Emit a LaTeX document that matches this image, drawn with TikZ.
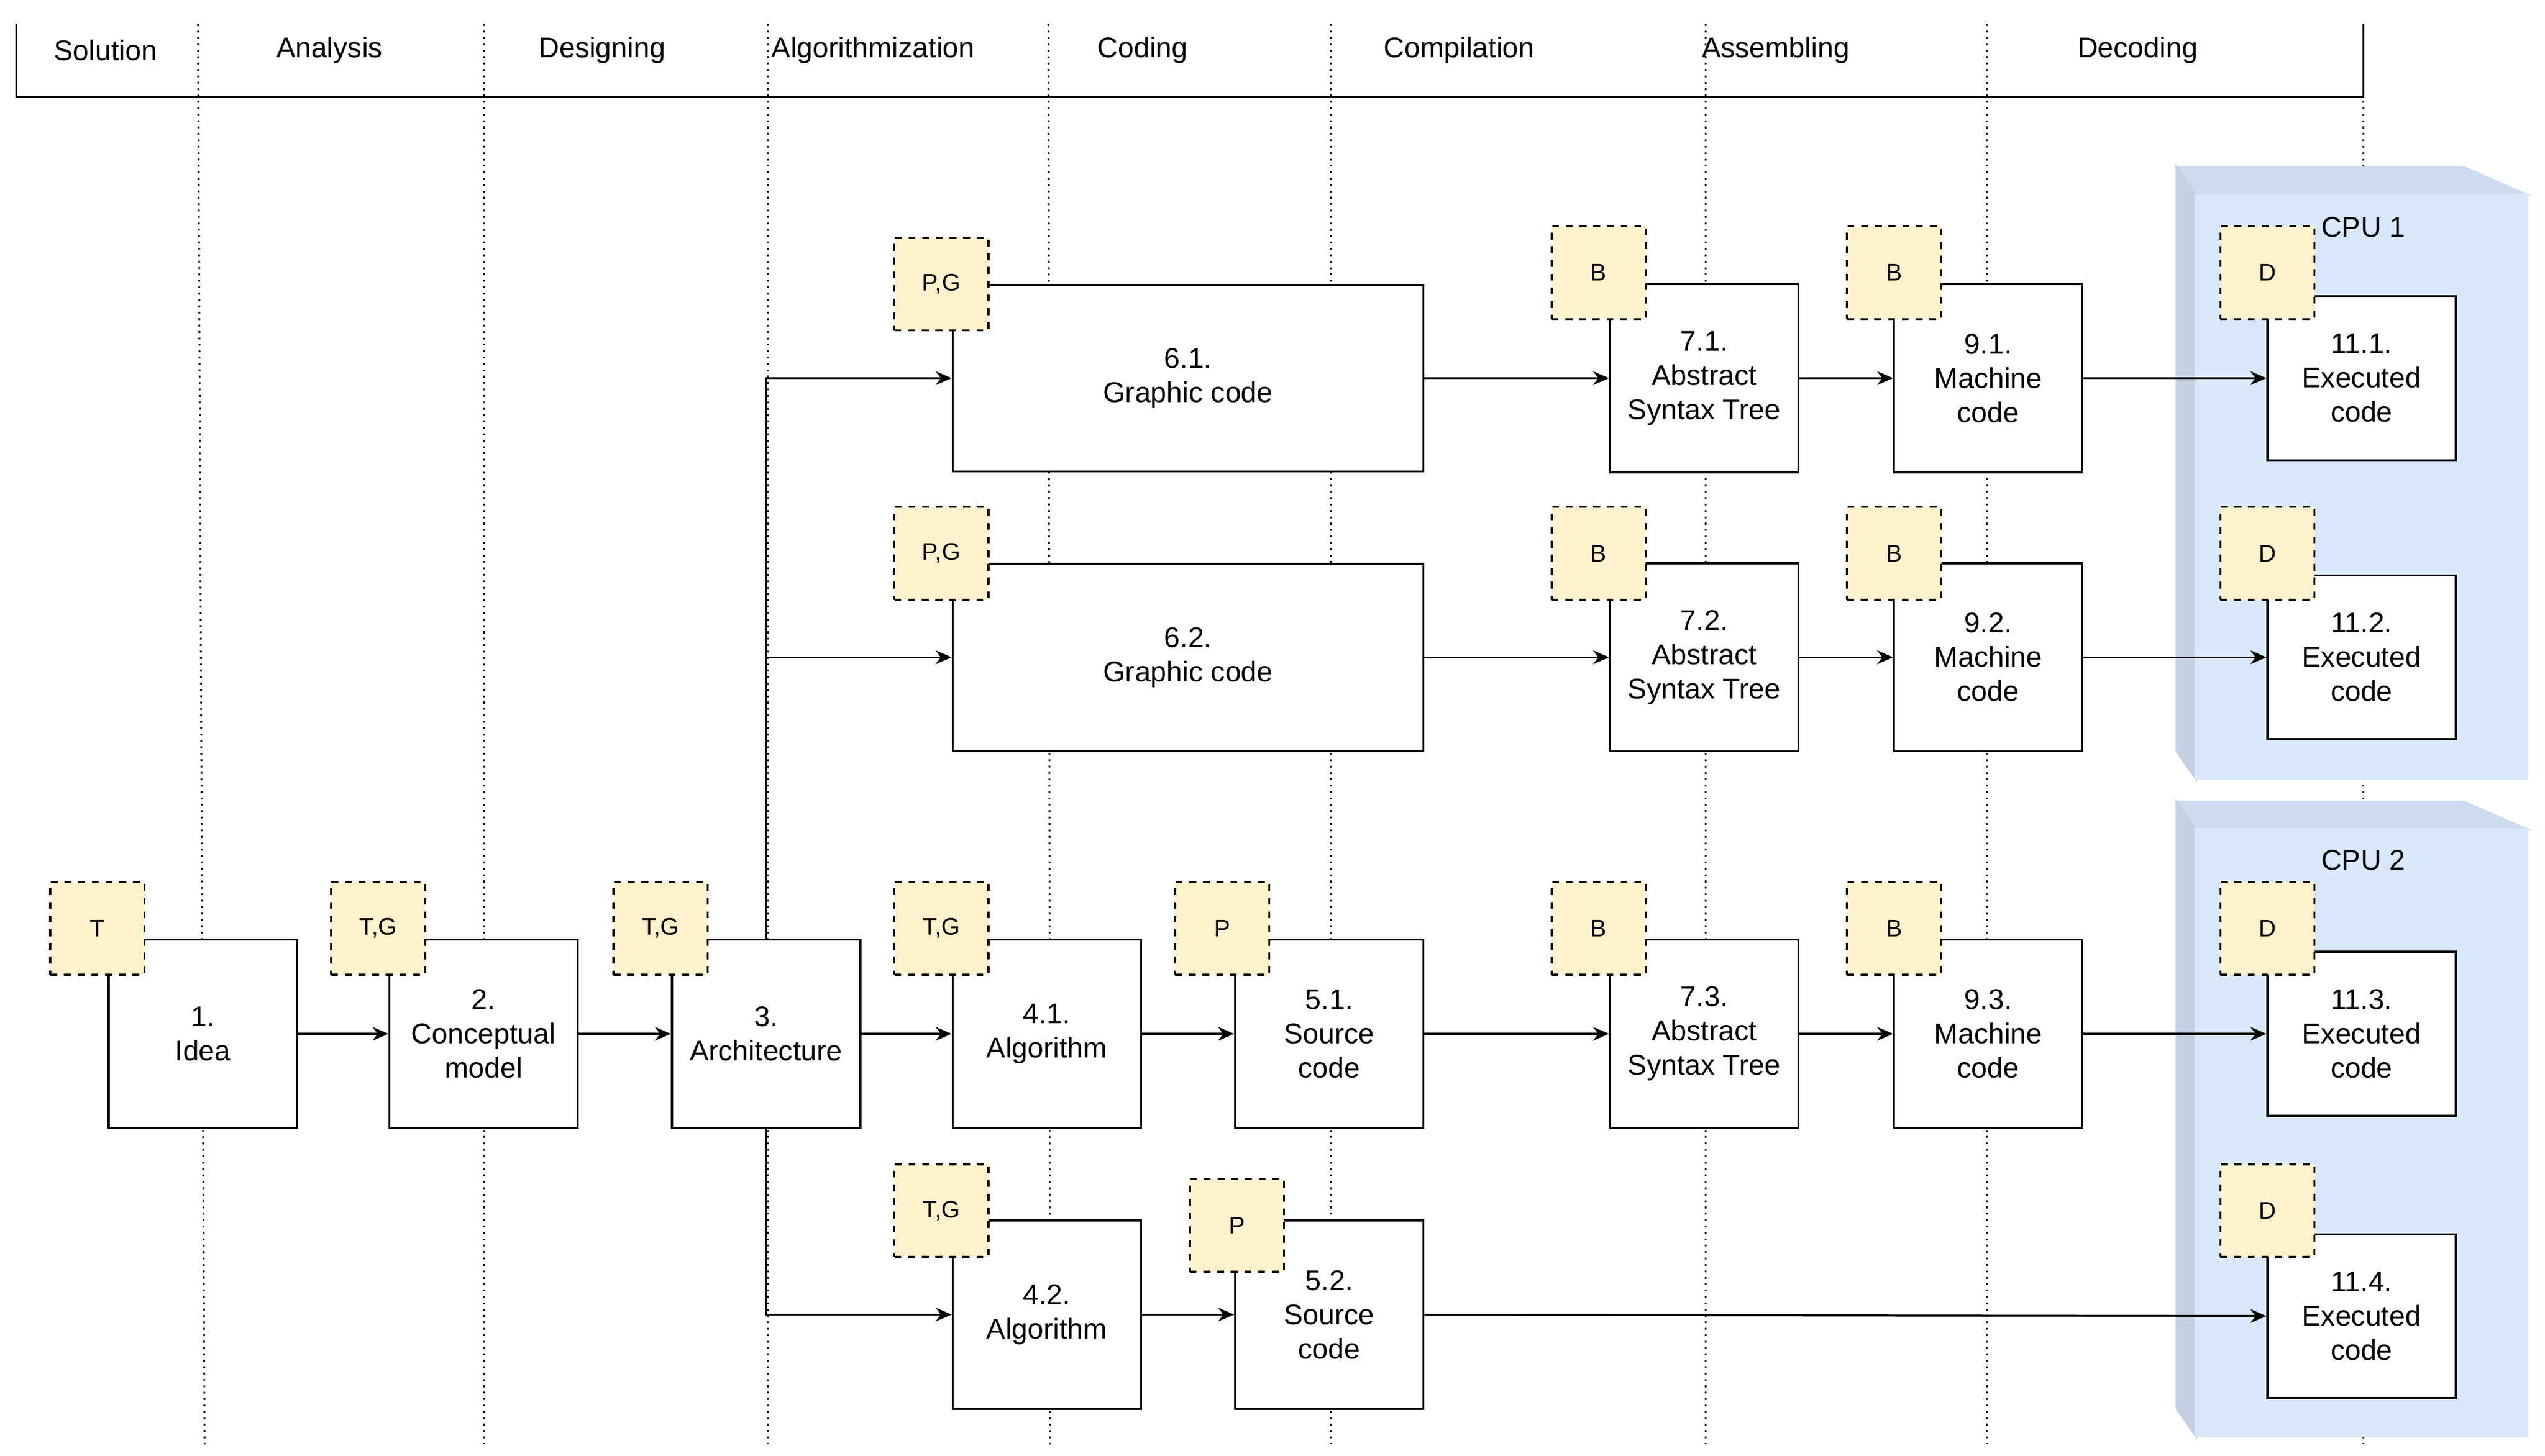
\documentclass[tikz,border=0pt]{standalone}
\usepackage{fontspec}
\setmainfont{Liberation Sans}
\usetikzlibrary{arrows.meta}
\definecolor{tagc}{HTML}{FFF2CC}
\definecolor{cpuf}{HTML}{DAE8FC}
\definecolor{cpus}{HTML}{C5D1E3}
\definecolor{cput}{HTML}{CCDBF0}
\begin{document}
\begin{tikzpicture}[x=0.025cm,y=-0.025cm,
  box/.style={draw,fill=white,line width=0.9pt,minimum width=2.9cm,minimum height=2.9cm,align=center,inner sep=1pt,font=\fontsize{12.5}{15}\selectfont},
  wide/.style={box,minimum width=7.25cm,minimum height=2.875cm},
  exe/.style={box,minimum height=2.525cm},
  tag/.style={draw,dashed,fill=tagc,line width=0.9pt,minimum width=1.45cm,minimum height=1.43cm,inner sep=0pt,font=\fontsize{10.5}{12}\selectfont},
  hd/.style={font=\fontsize{12.5}{15}\selectfont},
  arr/.style={line width=0.9pt,-{Stealth[length=7pt,width=6pt]}},
  dl/.style={dotted,line width=0.8pt},
  cpu/.style={draw,line width=0.9pt}]
\useasboundingbox (0,0) rectangle (1568,897);
% lanes
\foreach \a/\b in {122/126,298/298,473/473,646/647,820/820,1051/1051,1224/1224,1456/1456}
  \draw[dl] (\a,15) -- (\b,890);
\draw[line width=0.8pt] (10,15) -- (10,60) -- (1456,60) -- (1456,15);
\node[hd] (h1) at (65,31) {Solution};
\node[hd] (h2) at (203,31) {Analysis};
\node[hd] (h3) at (371,31) {Designing};
\node[hd] (h4) at (538,31) {Algorithmization};
\node[hd] (h5) at (704,31) {Coding};
\node[hd] (h6) at (899,31) {Compilation};
\node[hd] (h7) at (1094,31) {Assembling};
\node[hd] (h8) at (1317,31) {Decoding};
% CPU boxes
\foreach \t/\b/\nm in {103/480/cpua,494/885/cpub}{
  \fill[cput,cpu] (1341,\t) -- (1518,\t) -- (1557,\t+17) -- (1353,\t+17) -- cycle;
  \fill[cpus,cpu] (1341,\t) -- (1353,\t+17) -- (1353,\b) -- (1341,\b-17) -- cycle;
  \fill[cpuf,cpu] (1353,\t+17) rectangle (1557,\b);
}
\node[hd] (c1) at (1456,140) {CPU 1};
\node[hd] (c2) at (1456,530) {CPU 2};
% main row
\node[box] (n1) at (125,637) {1.\\Idea};
\node[box] (n2) at (298,637) {2.\\Conceptual\\model};
\node[box] (n3) at (472,637) {3.\\Architecture};
\node[box] (n41) at (645,637) {4.1.\\Algorithm};
\node[box] (n51) at (819,637) {5.1.\\Source\\code};
\node[box] (n73) at (1050,637) {7.3.\\Abstract\\Syntax Tree};
\node[box] (n93) at (1225,637) {9.3.\\Machine\\code};
\node[exe] (n113) at (1455,637) {11.3.\\Executed\\code};
% row 1
\node[wide] (n61) at (732,233) {6.1.\\Graphic code};
\node[box] (n71) at (1050,233) {7.1.\\Abstract\\Syntax Tree};
\node[box] (n91) at (1225,233) {9.1.\\Machine\\code};
\node[exe] (n111) at (1455,233) {11.1.\\Executed\\code};
% row 2
\node[wide] (n62) at (732,405) {6.2.\\Graphic code};
\node[box] (n72) at (1050,405) {7.2.\\Abstract\\Syntax Tree};
\node[box] (n92) at (1225,405) {9.2.\\Machine\\code};
\node[exe] (n112) at (1455,405) {11.2.\\Executed\\code};
% row 4
\node[box] (n42) at (645,810) {4.2.\\Algorithm};
\node[box] (n52) at (819,810) {5.2.\\Source\\code};
\node[exe] (n114) at (1455,811) {11.4.\\Executed\\code};
% tags
\node[tag] (t1) at (60,572) {T};
\node[tag] (t2) at (233,572) {T,G};
\node[tag] (t3) at (407,572) {T,G};
\node[tag] (t41) at (580,572) {T,G};
\node[tag] (t51) at (753,572) {P};
\node[tag] (t73) at (985,572) {B};
\node[tag] (t93) at (1167,572) {B};
\node[tag] (t113) at (1397,572) {D};
\node[tag] (t61) at (580,175) {P,G};
\node[tag] (t71) at (985,168) {B};
\node[tag] (t91) at (1167,168) {B};
\node[tag] (t111) at (1397,168) {D};
\node[tag] (t62) at (580,341) {P,G};
\node[tag] (t72) at (985,341) {B};
\node[tag] (t92) at (1167,341) {B};
\node[tag] (t112) at (1397,341) {D};
\node[tag] (t42) at (580,746) {T,G};
\node[tag] (t52) at (762,755) {P};
\node[tag] (t114) at (1397,746) {D};
% connectors
\draw[arr] (n1) -- (n2);
\draw[arr] (n2) -- (n3);
\draw[arr] (n3) -- (n41);
\draw[arr] (n41) -- (n51);
\draw[arr] (n51) -- (n73);
\draw[arr] (n73) -- (n93);
\draw[arr] (n93) -- (n113);
\draw[arr] (n3.north) |- (n61);
\draw[arr] (n3.north) |- (n62);
\draw[arr] (n3.south) |- (n42);
\draw[arr] (n61) -- (n71);
\draw[arr] (n71) -- (n91);
\draw[arr] (n91) -- (n111);
\draw[arr] (n62) -- (n72);
\draw[arr] (n72) -- (n92);
\draw[arr] (n92) -- (n112);
\draw[arr] (n42) -- (n52);
\draw[arr] (n52) -- (n114);
\end{tikzpicture}
\end{document}
